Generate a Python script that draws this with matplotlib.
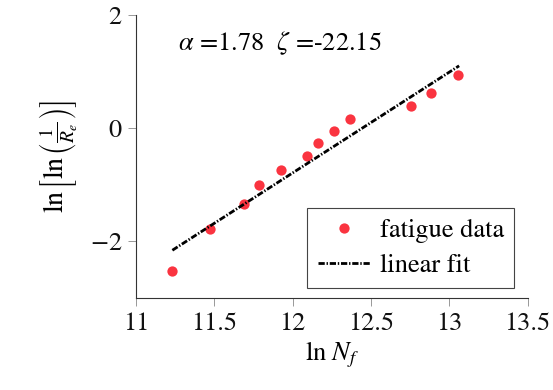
import numpy as np
import matplotlib as mpl
import matplotlib.pyplot as plt

# Fonts: Times-like serif with STIX math
mpl.rcParams['font.family'] = 'STIXGeneral'
mpl.rcParams['mathtext.fontset'] = 'stix'
mpl.rcParams['lines.scale_dashes'] = False

# Fatigue data (ln N_f, ln[ln(1/R_e)])
ln_nf = [11.232, 11.473, 11.690, 11.783, 11.924, 12.092,
         12.164, 12.262, 12.369, 12.756, 12.886, 13.058]
ln_ln_re = [-2.53, -1.79, -1.345, -1.003, -0.731, -0.484,
            -0.26, -0.053, 0.159, 0.384, 0.619, 0.932]

# Linear fit parameters
alpha = 1.78
zeta = -22.15
fit_x = np.array([11.232, 13.063])
fit_y = alpha * fit_x + zeta

x_ticks = [11, 11.5, 12, 12.5, 13, 13.5]
x_tick_labels = ['11', '11.5', '12', '12.5', '13', '13.5']
y_ticks = [-2, 0, 2]
y_tick_labels = ['$-2$', '$0$', '$2$']

fig = plt.figure(figsize=(5.53, 3.9), dpi=100)
ax = fig.add_axes([0.246, 0.236, 0.708, 0.7255])

ax.plot(ln_nf, ln_ln_re, 'o', color='#fa3440', markersize=7.4,
        markeredgewidth=0, label='fatigue data')
ax.plot(fit_x, fit_y, color='black', linewidth=2.0,
        dashes=(4.5, 1.3, 1.0, 1.3), label='linear fit')

ax.set_xlim(11, 13.5)
ax.set_ylim(-3, 2)
ax.set_xticks(x_ticks)
ax.set_xticklabels(x_tick_labels)
ax.set_yticks(y_ticks)
ax.set_yticklabels(y_tick_labels)

# Spines: only left and bottom
for spine in ['top', 'right']:
    ax.spines[spine].set_visible(False)
for spine in ['left', 'bottom']:
    ax.spines[spine].set_color('#333333')
    ax.spines[spine].set_linewidth(0.8)
ax.tick_params(axis='both', direction='out', length=6, width=0.6,
               color='#888888', labelsize=19, labelcolor='#111111', pad=4)

ax.set_xlabel(r'$\ln\,N_f$', fontsize=19, labelpad=3)
ax.set_ylabel(r'$\ln\left[\ln\left(\frac{1}{R_e}\right)\right]$',
              fontsize=20, labelpad=8)

ax.text(11.265, 1.5, r'$\alpha$ =1.78  $\zeta$ =-22.15', fontsize=19,
        va='center', ha='left')

leg = ax.legend(loc='lower right', fontsize=19, fancybox=False,
                framealpha=1, edgecolor='#444444', borderpad=0.4,
                handlelength=2.0, handletextpad=0.35, labelspacing=0.4,
                borderaxespad=0.2, bbox_to_anchor=(0.98, 0.015))
leg.get_frame().set_linewidth(0.8)

fig.savefig('out.png', dpi=100)
